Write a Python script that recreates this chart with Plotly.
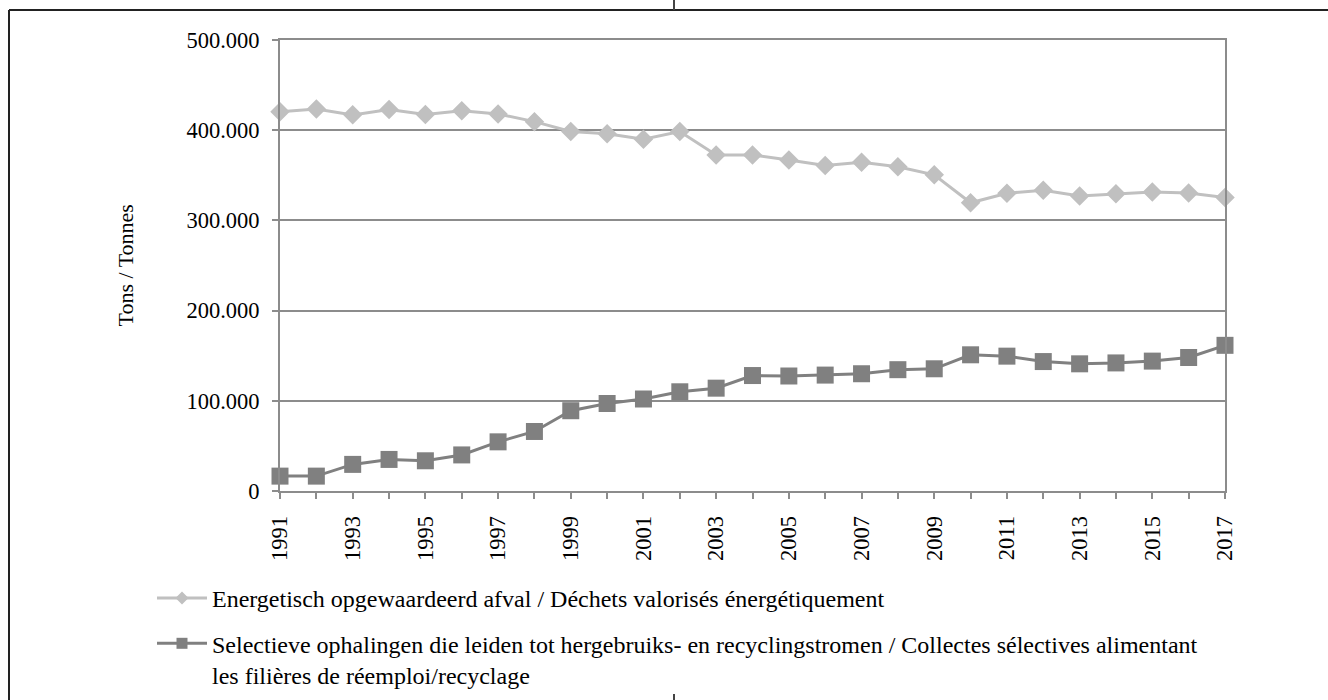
import plotly.graph_objects as go

years = list(range(1991, 2018))
year_labels = [str(y) if (y - 1991) % 2 == 0 else "" for y in years]

energy = [420500, 423500, 417000, 423000, 417500, 421500, 418000, 409500, 398500,
          396000, 390000, 398500, 372500, 372500, 367000, 361000, 364500, 359500,
          350500, 319500, 330000, 333500, 327000, 329500, 331500, 330500, 325500]
selective = [16500, 16500, 29500, 35000, 33500, 40000, 54500, 66000, 89000,
             97000, 102000, 110000, 114000, 128000, 127500, 128500, 130000, 134500,
             135500, 151000, 149500, 143500, 141000, 142000, 144000, 148000, 161500]

name_energy = "Energetisch opgewaardeerd afval / Déchets valorisés énergétiquement"
name_selective = ("Selectieve ophalingen die leiden tot hergebruiks- en recyclingstromen / "
                  "Collectes sélectives alimentant<br>les filières de réemploi/recyclage")

FONT = "Liberation Serif, Times New Roman, serif"
GRID = "#8c8c8c"
C_ENERGY = "#c0c0c0"
C_SELECT = "#808080"

# plot area in pixels; the figure is a bit taller than the window so the
# legend does not push the bottom margin (the overflow is simply cut off)
W, H = 1328, 720
L, R, T, B = 280, 1225, 40, 491


def px(x):
    return (x - L) / (R - L)


def py(y):
    return (B - y) / (B - T)


fig = go.Figure()
fig.add_trace(go.Scatter(
    x=years, y=energy, name=name_energy, mode="lines+markers",
    line=dict(color=C_ENERGY, width=3),
    marker=dict(symbol="diamond", size=15, color=C_ENERGY),
    cliponaxis=False, showlegend=False,
))
fig.add_trace(go.Scatter(
    x=years, y=selective, name=name_selective, mode="lines+markers",
    line=dict(color=C_SELECT, width=3),
    marker=dict(symbol="square", size=17, color=C_SELECT),
    cliponaxis=False, showlegend=False,
))
# legend entries with smaller symbols, as in the original
fig.add_trace(go.Scatter(
    x=[None], y=[None], name=name_energy, mode="lines+markers",
    line=dict(color=C_ENERGY, width=3),
    marker=dict(symbol="diamond", size=10, color=C_ENERGY),
    legendgroup="a",
))
fig.add_trace(go.Scatter(
    x=[None], y=[None], name=name_selective, mode="lines+markers",
    line=dict(color=C_SELECT, width=3),
    marker=dict(symbol="square", size=11, color=C_SELECT),
    legendgroup="b",
))

fig.update_layout(
    width=W, height=H,
    margin=dict(l=L, r=W - R, t=T, b=H - B),
    paper_bgcolor="white", plot_bgcolor="white",
    separators=",.",
    font=dict(family=FONT, size=22, color="black"),
    showlegend=True,
    legend=dict(
        x=px(152), xanchor="left", y=py(576), yanchor="top",
        traceorder="grouped", tracegroupgap=11, valign="top",
        itemwidth=50, font=dict(family=FONT, size=24),
        bgcolor="rgba(0,0,0,0)",
    ),
    xaxis=dict(
        range=[1991, 2017], tickvals=years, ticktext=year_labels,
        tickangle=-90, ticks="outside", ticklen=6, tickcolor=GRID, tickwidth=2,
        showgrid=False, showline=True, linecolor=GRID, linewidth=2, mirror=True,
        ticklabelstandoff=8, zeroline=False,
        tickfont=dict(family=FONT, size=22.5),
    ),
    yaxis=dict(
        range=[0, 500000], dtick=100000, tickformat=",d",
        ticks="outside", ticklen=6, tickcolor=GRID, tickwidth=2,
        showgrid=True, gridcolor=GRID, gridwidth=2,
        showline=True, linecolor=GRID, linewidth=2, mirror=True,
        zeroline=False, ticklabelstandoff=8,
        tickfont=dict(family=FONT, size=22.5),
    ),
    annotations=[dict(
        text="Tons / Tonnes", textangle=-90, showarrow=False,
        xref="paper", yref="paper", x=px(125), y=0.5,
        xanchor="center", yanchor="middle",
        font=dict(family=FONT, size=22),
    )],
    shapes=[
        dict(type="line", xref="paper", yref="paper", x0=px(9), x1=px(9),
             y0=py(10), y1=py(H), line=dict(color="#222222", width=2)),
        dict(type="line", xref="paper", yref="paper", x0=px(9), x1=px(W),
             y0=py(10), y1=py(10), line=dict(color="#222222", width=2)),
        dict(type="line", xref="paper", yref="paper", x0=px(674), x1=px(674),
             y0=py(0), y1=py(10), line=dict(color="#444444", width=2)),
        dict(type="line", xref="paper", yref="paper", x0=px(674), x1=px(674),
             y0=py(694), y1=py(700), line=dict(color="#444444", width=2)),
    ],
)

fig.write_html(
    "out.html",
    config={"displayModeBar": False},
    post_script="document.body.style.margin='0';document.body.style.overflow='hidden';",
)
